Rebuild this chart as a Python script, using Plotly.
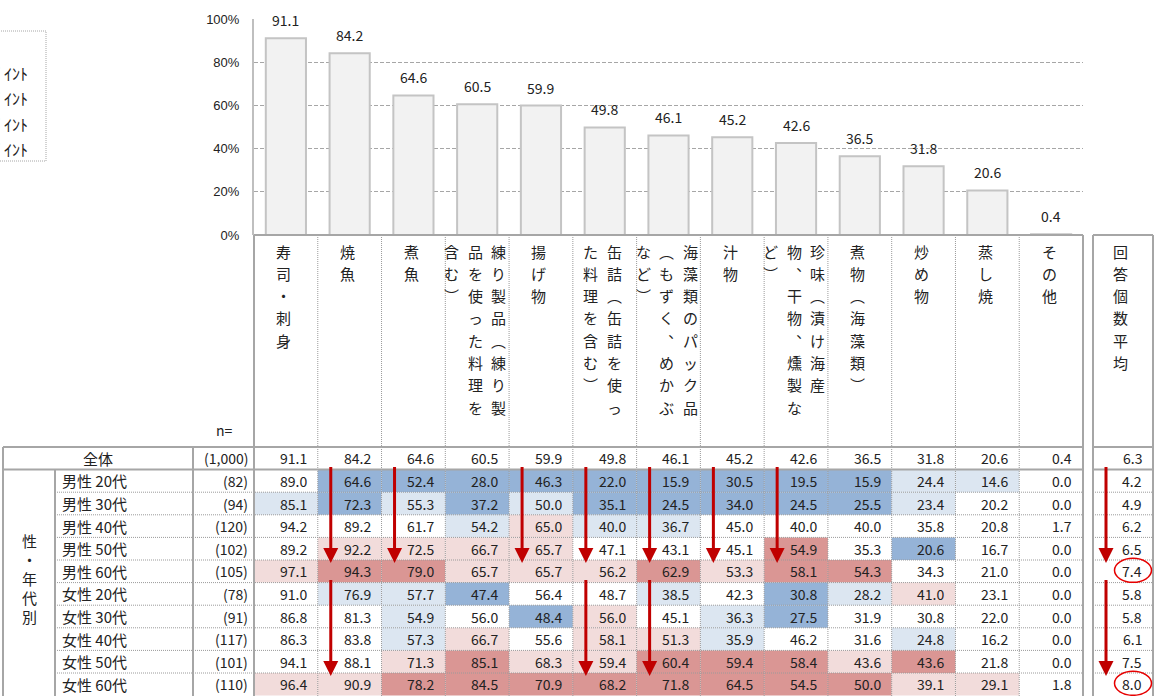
import plotly.graph_objects as go

# ---------------- data ----------------
categories = ["寿司・刺身", "焼魚", "煮魚", "練り製品（練り製品を使った料理を含む）", "揚げ物",
              "缶詰（缶詰を使った料理を含む）", "海藻類のパック品（もずく、めかぶなど）", "汁物",
              "珍味（漬け海産物、干物、燻製など）", "煮物（海藻類）", "炒め物", "蒸し焼", "その他"]
header_lines = [["寿司・刺身"], ["焼魚"], ["煮魚"],
                ["練り製品（練り製", "品を使った料理を", "含む）"],
                ["揚げ物"],
                ["缶詰（缶詰を使っ", "た料理を含む）"],
                ["海藻類のパック品", "（もずく、めかぶ", "など）"],
                ["汁物"],
                ["珍味（漬け海産", "物、干物、燻製な", "ど）"],
                ["煮物（海藻類）"], ["炒め物"], ["蒸し焼"], ["その他"]]
avg_header = "回答個数平均"
overall_label = "全体"
overall_n = "1,000"
overall_pct = [91.1, 84.2, 64.6, 60.5, 59.9, 49.8, 46.1, 45.2, 42.6, 36.5, 31.8, 20.6, 0.4]
overall_avg = 6.3
side_label = "性・年代別"
group_labels = ["男性 20代", "男性 30代", "男性 40代", "男性 50代", "男性 60代",
                "女性 20代", "女性 30代", "女性 40代", "女性 50代", "女性 60代"]
group_n = [82, 94, 120, 102, 105, 78, 91, 117, 101, 110]
group_values = [
    [89.0, 64.6, 52.4, 28.0, 46.3, 22.0, 15.9, 30.5, 19.5, 15.9, 24.4, 14.6, 0.0],
    [85.1, 72.3, 55.3, 37.2, 50.0, 35.1, 24.5, 34.0, 24.5, 25.5, 23.4, 20.2, 0.0],
    [94.2, 89.2, 61.7, 54.2, 65.0, 40.0, 36.7, 45.0, 40.0, 40.0, 35.8, 20.8, 1.7],
    [89.2, 92.2, 72.5, 66.7, 65.7, 47.1, 43.1, 45.1, 54.9, 35.3, 20.6, 16.7, 0.0],
    [97.1, 94.3, 79.0, 65.7, 65.7, 56.2, 62.9, 53.3, 58.1, 54.3, 34.3, 21.0, 0.0],
    [91.0, 76.9, 57.7, 47.4, 56.4, 48.7, 38.5, 42.3, 30.8, 28.2, 41.0, 23.1, 0.0],
    [86.8, 81.3, 54.9, 56.0, 48.4, 56.0, 45.1, 36.3, 27.5, 31.9, 30.8, 22.0, 0.0],
    [86.3, 83.8, 57.3, 66.7, 55.6, 58.1, 51.3, 35.9, 46.2, 31.6, 24.8, 16.2, 0.0],
    [94.1, 88.1, 71.3, 85.1, 68.3, 59.4, 60.4, 59.4, 58.4, 43.6, 43.6, 21.8, 0.0],
    [96.4, 90.9, 78.2, 84.5, 70.9, 68.2, 71.8, 64.5, 54.5, 50.0, 39.1, 29.1, 1.8],
]
group_avg = [4.2, 4.9, 6.2, 6.5, 7.4, 5.8, 5.8, 6.1, 7.5, 8.0]
y_ticks = [0, 20, 40, 60, 80, 100]
y_tick_labels = ["0%", "20%", "40%", "60%", "80%", "100%"]
legend_label = "ﾎﾟｲﾝﾄ"
# arrows: (column index, first group row, last group row); column 13 = 回答個数平均
arrows = [(1, 0, 4), (1, 5, 9), (2, 0, 4), (4, 0, 4), (5, 0, 4), (5, 5, 9),
          (6, 0, 4), (6, 5, 9), (7, 0, 4), (8, 0, 4), (13, 0, 4), (13, 5, 9)]
circled_avg_rows = [4, 9]

# ---------------- geometry / style ----------------
W, H = 1157, 696
FONT = "Noto Sans CJK JP"
TXT = "#222222"
X0, X1 = 254.0, 1083.0
NC = len(categories)
CW = (X1 - X0) / NC
AX0, AX1 = 1093.0, 1153.0
HY = 235.0
RY0 = 447.0
RH = 22.6
LX_SIDE, LX_LABEL, LX_N = 3.0, 55.0, 193.0
BORDER = "#A6A6A6"
C_DB, C_LB, C_LP, C_DR = "#95B3D7", "#DCE6F1", "#F2DCDB", "#DA9694"


def col_left(i):
    return X0 + i * CW if i < NC else AX0


def col_right(i):
    return X0 + (i + 1) * CW if i < NC else AX1


def row_top(r):
    return RY0 + r * RH


def cell_color(v, base):
    d = round(v - base, 1)
    if d >= 10:
        return C_DR
    if d > 5:
        return C_LP
    if d <= -10:
        return C_DB
    if d < -5:
        return C_LB
    return None


fig = go.Figure()

# bar chart
fig.add_trace(go.Bar(x=categories, y=overall_pct, width=0.63,
                     marker=dict(color="#F2F2F2", line=dict(color="#C4C4C4", width=2)),
                     hoverinfo="skip", xaxis="x", yaxis="y"))
# table canvas trace (invisible)
fig.add_trace(go.Scatter(x=[0], y=[0], mode="markers", marker=dict(opacity=0),
                         hoverinfo="skip", xaxis="x2", yaxis="y2", showlegend=False))

ann = []
shapes = []


def txt(x, y, s, size=14, xanchor="center", color=TXT):
    ann.append(dict(x=x, y=y, xref="x2", yref="y2", text=s, showarrow=False,
                    xanchor=xanchor, yanchor="middle",
                    font=dict(family=FONT, size=size, color=color)))


# bar value labels
for c, v in zip(categories, overall_pct):
    ann.append(dict(x=c, y=v, xref="x", yref="y", text=f"{v:.1f}", showarrow=False,
                    yanchor="middle", yshift=18,
                    font=dict(family=FONT, size=14, color=TXT)))

# cell fills
for r, vals in enumerate(group_values):
    for i, v in enumerate(vals):
        col = cell_color(v, overall_pct[i])
        if col:
            shapes.append(dict(type="rect", xref="x2", yref="y2", x0=col_left(i), x1=col_right(i),
                               y0=row_top(r + 1), y1=row_top(r + 2), fillcolor=col,
                               line=dict(width=0), layer="below"))


def line(x0, y0, x1, y1, dotted=False, width=2):
    shapes.append(dict(type="line", xref="x2", yref="y2", x0=x0, y0=y0, x1=x1, y1=y1,
                       line=dict(color=BORDER if not dotted else "#9A9A9A",
                                 width=1 if dotted else width,
                                 dash="1px,1px" if dotted else "solid"),
                       layer="above"))


BOT = H + 2
for i in range(1, NC):
    line(col_left(i), HY, col_left(i), BOT, dotted=True)
for r in range(2, len(group_labels) + 1):
    line(LX_LABEL, row_top(r), X1, row_top(r), dotted=True)
    line(AX0, row_top(r), AX1, row_top(r), dotted=True)
line(X0, HY, X1, HY)
line(AX0, HY, AX1, HY)
for yy in (row_top(0), row_top(1)):
    line(LX_SIDE, yy, X1, yy)
    line(AX0, yy, AX1, yy)
line(X0, HY, X0, BOT)
line(X1, HY, X1, BOT)
line(AX0, HY, AX0, BOT)
line(AX1, HY, AX1, BOT)
line(LX_SIDE, row_top(0), LX_SIDE, BOT)
line(LX_N, row_top(0), LX_N, BOT)
line(LX_LABEL, row_top(1), LX_LABEL, BOT)

# vertical header texts
VMAP = {"（": "︵", "）": "︶", "、": "︑"}


def vtext(cx, lines, y0=251.0, step=22.3, sp=23.5, size=15):
    n = len(lines)
    for j, ln in enumerate(lines):
        x = cx + (n - 1) / 2 * sp - j * sp
        for k, ch in enumerate(ln):
            txt(x, y0 + k * step, VMAP.get(ch, ch), size=size)


for i, lines in enumerate(header_lines):
    vtext(col_left(i) + CW / 2 - 2, lines)
vtext((AX0 + AX1) / 2 - 3, [avg_header])
txt(214, 430, "n=", size=14, xanchor="left")


def ymid(r):
    return row_top(r) + RH / 2


txt((LX_SIDE + LX_N) / 2, ymid(0), overall_label, size=15)
txt(X0 - 4, ymid(0), f"({overall_n})", size=14, xanchor="right")
for i, v in enumerate(overall_pct):
    txt(col_right(i) - 9, ymid(0), f"{v:.1f}", xanchor="right")
txt(AX1 - 9, ymid(0), f"{overall_avg:.1f}", xanchor="right")

for r, (lab, n, vals, av) in enumerate(zip(group_labels, group_n, group_values, group_avg)):
    rr = r + 1
    txt(LX_LABEL + 5, ymid(rr), lab, size=15, xanchor="left")
    txt(X0 - 4, ymid(rr), f"({n})", size=14, xanchor="right")
    for i, v in enumerate(vals):
        txt(col_right(i) - 9, ymid(rr), f"{v:.1f}", xanchor="right")
    txt(AX1 - 9, ymid(rr), f"{av:.1f}", xanchor="right")

# side label (vertical)
for k, ch in enumerate(side_label):
    txt((LX_SIDE + LX_LABEL) / 2, 540 + k * 19, ch, size=15)

# red arrows
for c, r0, r1 in arrows:
    x = col_left(c) + 13
    ann.append(dict(x=x, y=row_top(r1 + 1) + 3, ax=x, ay=row_top(r0 + 1) - 4,
                    xref="x2", yref="y2", axref="x2", ayref="y2", text="",
                    showarrow=True, arrowhead=2, arrowsize=1.0, arrowwidth=3,
                    arrowcolor="#C00000", standoff=0))

# red ellipses
for r in circled_avg_rows:
    cy = ymid(r + 1) - 1
    cx = AX1 - 20
    shapes.append(dict(type="circle", xref="x2", yref="y2", x0=cx - 18.5, x1=cx + 18.5,
                       y0=cy - 12, y1=cy + 12, line=dict(color="#E60000", width=1.5),
                       layer="above"))

# cropped legend box at top-left
shapes.append(dict(type="rect", xref="x2", yref="y2", x0=-5, x1=46, y0=31, y1=161,
                   line=dict(color="#A6A6A6", width=1, dash="1px,1px"), layer="above"))
for yy in (73, 98, 124, 149):
    txt(30, yy, legend_label, size=16, xanchor="right")

fig.update_layout(
    width=W, height=H, margin=dict(l=0, r=0, t=0, b=0, pad=0), autosize=False,
    paper_bgcolor="white", plot_bgcolor="rgba(0,0,0,0)", showlegend=False,
    xaxis=dict(domain=[X0 / W, X1 / W], range=[-0.5, NC - 0.5], type="category",
               showticklabels=False, showgrid=False, zeroline=False, showline=False,
               fixedrange=True, anchor="y", automargin=False),
    yaxis=dict(domain=[(H - HY) / H, (H - 19) / H], range=[0, 100],
               tickvals=y_ticks, ticktext=y_tick_labels,
               showgrid=True, gridcolor="#A6A6A6", gridwidth=1, griddash="4px,2px",
               zeroline=False, showline=True, linecolor="#BFBFBF", linewidth=2,
               ticks="outside", ticklen=10, tickcolor="rgba(0,0,0,0)",
               tickfont=dict(family="Liberation Sans", size=13, color=TXT),
               fixedrange=True, anchor="x", automargin=False),
    xaxis2=dict(domain=[0, 1], range=[0, W], visible=False, fixedrange=True, anchor="y2",
                automargin=False),
    yaxis2=dict(domain=[0, 1], range=[H, 0], visible=False, fixedrange=True, anchor="x2",
                automargin=False),
    annotations=ann, shapes=shapes,
)

fig.write_html("out.html", config={"displayModeBar": False},
               post_script="document.body.style.margin='0';document.body.style.overflow='hidden';")
